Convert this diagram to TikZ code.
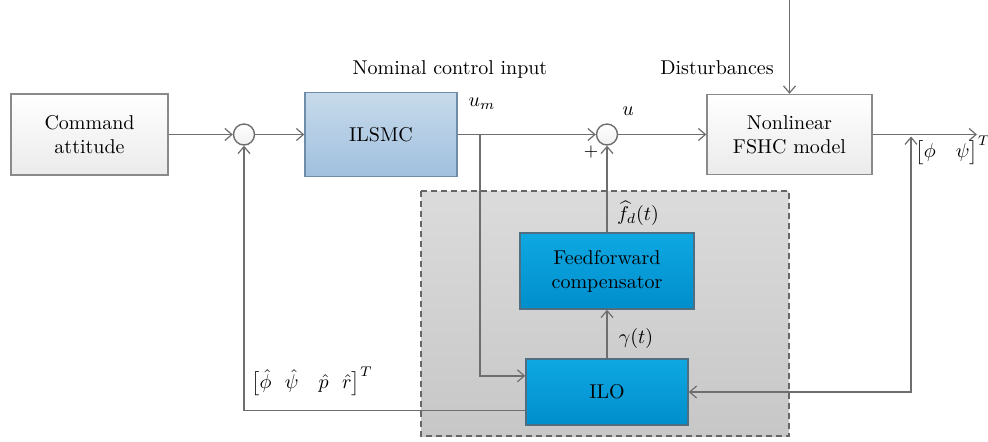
\documentclass[tikz,border=0pt]{standalone}
\usepackage{amsmath}
\usetikzlibrary{arrows.meta,calc}
\definecolor{ln}{HTML}{6E6E6E}
\definecolor{grayedge}{HTML}{8A8A8A}
\definecolor{blueedge}{HTML}{6F8CA8}
\definecolor{cyanedge}{HTML}{4F6E82}
\definecolor{regionedge}{HTML}{666666}
\tikzset{
  wire/.style={draw=ln, line width=0.7pt},
  arr/.style={wire, -{Straight Barb[length=3.5pt,width=6pt,line width=0.6pt]}},
  darr/.style={wire, {Straight Barb[length=3.5pt,width=6pt,line width=0.6pt]}-{Straight Barb[length=3.5pt,width=6pt,line width=0.6pt]}},
  graybox/.style={draw=grayedge, line width=0.7pt, top color=white, bottom color=black!8, align=center, inner sep=0pt},
  bluebox/.style={draw=blueedge, line width=0.7pt, top color={rgb,255:red,199;green,218;blue,235}, bottom color={rgb,255:red,160;green,192;blue,222}, align=center, inner sep=0pt},
  cyanbox/.style={draw=cyanedge, line width=0.7pt, top color={rgb,255:red,14;green,168;blue,226}, bottom color={rgb,255:red,0;green,142;blue,204}, align=center, inner sep=0pt},
  sumnode/.style={circle, draw=ln, line width=0.7pt, top color=white, bottom color=black!6, minimum size=10.5pt, inner sep=0pt},
  lbl/.style={inner sep=1pt}
}
\begin{document}
\begin{tikzpicture}[x=0.5pt,y=-0.5pt]
\useasboundingbox (0,0) rectangle (988,441);
% background region
\path[draw=regionedge, line width=0.7pt, dash pattern=on 3pt off 2pt, top color=black!14, bottom color=black!22] (421,191) rectangle (789,436);
% blocks
\node[graybox, minimum width=78.5pt, minimum height=40.5pt] (cmd) at (89.5,134.5) {Command\\attitude};
\node[sumnode] (s1) at (244,134.5) {};
\node[bluebox, minimum width=76pt, minimum height=42pt] (ilsmc) at (381,134.5) {ILSMC};
\node[sumnode] (s2) at (607,134.5) {};
\node[graybox, minimum width=82.5pt, minimum height=40pt] (plant) at (789.5,134.5) {Nonlinear\\FSHC model};
\node[cyanbox, minimum width=87pt, minimum height=38pt] (ff) at (607,271) {Feedforward\\compensator};
\node[cyanbox, minimum width=81pt, minimum height=33pt] (ilo) at (607,392) {ILO};
% coordinates
\coordinate (bm) at (480,134.5);
\coordinate (dtop) at (789.5,0);
\coordinate (out) at (977,134.5);
\coordinate (fbtop) at (911,136.5);
\coordinate (iloin) at ($(ilo.north west)!0.26!(ilo.south west)$);
\coordinate (iloout) at ($(ilo.north west)!0.77!(ilo.south west)$);
% connectors
\draw[arr] (cmd.east) -- (s1.west);
\draw[arr] (s1.east) -- (ilsmc.west);
\draw[arr] (ilsmc.east) -- (s2.west);
\draw[arr] (s2.east) -- (plant.west);
\draw[arr] (dtop) -- (plant.north);
\draw[arr] (plant.east) -- (out);
\draw[arr] (bm) |- (iloin);
\draw[arr] (ilo.north) -- (ff.south);
\draw[arr] (ff.north) -- (s2.south);
\draw[arr] (iloout) -| (s1.south);
\draw[darr] (fbtop) |- (ilo.east);
% labels
\node[lbl] (nci) at (450,69) {Nominal control input};
\node[lbl] (dist) at (717,68) {Disturbances};
\node[lbl] (um) at (482,104) {$u_m$};
\node[lbl] (u) at (628,111) {$u$};
\node[lbl] (plus) at (591,152) {\small$+$};
\node[lbl] (fd) at (638,213) {$\widehat{f}_d(t)$};
\node[lbl] (gam) at (636,338) {$\gamma(t)$};
\node[lbl] (est) at (312,381) {$\bigl[\hat{\phi}\ \ \hat{\psi}\ \ \ \hat{p}\ \ \hat{r}\bigr]^T$};
\node[lbl] (meas) at (953,150) {$\bigl[\phi\ \ \ \psi\bigr]^T$};
\end{tikzpicture}
\end{document}
